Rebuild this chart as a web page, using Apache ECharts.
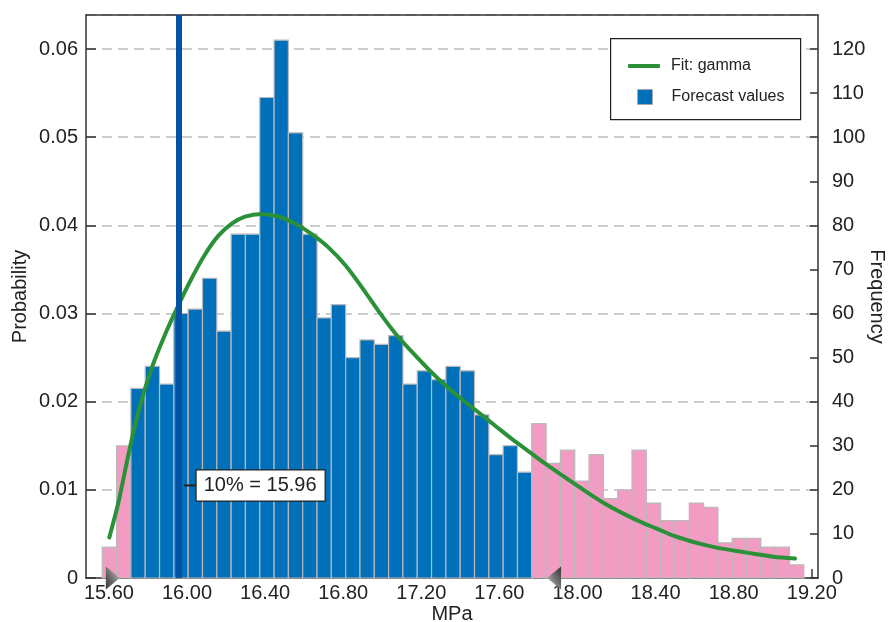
<!DOCTYPE html>
<html>
<head>
<meta charset="utf-8">
<script src="https://cdn.jsdelivr.net/npm/echarts@6/dist/echarts.min.js"></script>
<style>
html,body{margin:0;padding:0;background:#fff;}
#chart{width:890px;height:622px;}
</style>
</head>
<body>
<div id="chart"></div>
<script>
// ---- data ----
var binStart = 15.566;          // left edge of first bin (MPa)
var binWidth = 0.07333;         // bin width (MPa)
var frequencies = [7, 30, 43, 48, 44, 60, 61, 68, 56, 78, 78, 109, 122, 101, 78, 59, 62, 50, 54, 53,
                   55, 44, 47, 45, 48, 47, 37, 28, 30, 24, 35, 26, 29, 22, 28, 18, 20, 29, 17, 13,
                   13, 17, 16, 8, 9, 9, 7, 7, 3];
var firstInRangeBin = 2;        // bins inside certainty range (blue)
var lastInRangeBin = 29;
var fitX = [15.602, 15.648, 15.699, 15.751, 15.819, 15.887, 15.955, 16.024, 16.092, 16.160, 16.229,
            16.297, 16.383, 16.468, 16.553, 16.639, 16.724, 16.810, 16.895, 16.980, 17.065, 17.150,
            17.236, 17.321, 17.406, 17.492, 17.577, 17.662, 17.748, 17.833, 17.918, 18.004, 18.064,
            18.150, 18.235, 18.320, 18.406, 18.491, 18.576, 18.662, 18.747, 18.832, 18.918, 19.003, 19.114];
var fitProb = [0.0046, 0.0085, 0.0139, 0.0189, 0.0238, 0.0276, 0.0309, 0.0340, 0.0367, 0.0388, 0.0402,
               0.0410, 0.0413, 0.0410, 0.0402, 0.0390, 0.0375, 0.0355, 0.0330, 0.0303, 0.0278, 0.0257,
               0.0237, 0.0219, 0.0203, 0.0188, 0.0173, 0.0158, 0.0144, 0.0130, 0.0117, 0.0104, 0.0095,
               0.0083, 0.0073, 0.0064, 0.0056, 0.0048, 0.0042, 0.0037, 0.0033, 0.0030, 0.0027, 0.0024, 0.0022];
var percentileValue = 15.96;
var percentileText = '10% = 15.96';
var percentileLabelProb = 0.0105;
var grabberValues = [15.62, 17.88];
var xTickValues = [15.60, 16.00, 16.40, 16.80, 17.20, 17.60, 18.00, 18.40, 18.80, 19.20];
var trialsPerProb = 2000;       // frequency = probability * trials

// ---- chart ----
var FONT = 'Liberation Sans, Arial, Helvetica, sans-serif';
var chart = echarts.init(document.getElementById('chart'), null, {renderer: 'canvas'});

var barData = frequencies.map(function (f, i) {
  return [binStart + i * binWidth, binStart + (i + 1) * binWidth, f, (i >= firstInRangeBin && i <= lastInRangeBin) ? 1 : 0];
});
var fitData = fitX.map(function (x, i) { return [x, fitProb[i]]; });

var probMax = 0.06386;
var xMin = 15.4827, xMax = 19.2318;
var AXIS = {color: '#333', width: 1.5};

var option = {
  backgroundColor: '#fff',
  animation: false,
  textStyle: {fontFamily: FONT},
  grid: {left: 86, right: 72, top: 15, bottom: 44, show: false, outerBoundsMode: 'none', containLabel: false},
  graphic: [{
    type: 'rect', left: 610, top: 38, z: 3,
    shape: {width: 190, height: 81},
    style: {fill: '#fff', stroke: '#222', lineWidth: 1.2}
  }],
  legend: [{
    data: [{name: 'Fit: gamma', icon: 'roundRect'}],
    left: 628, top: 57, padding: 0, z: 5,
    itemWidth: 32, itemHeight: 4,
    textStyle: {fontSize: 16, color: '#222', fontFamily: FONT, lineHeight: 18, padding: [0, 0, 0, 6]},
    selectedMode: false
  }, {
    data: [{name: 'Forecast values', icon: 'rect', itemStyle: {color: '#0070BA', borderColor: '#aaa', borderWidth: 1}}],
    left: 637, top: 88, padding: 0, z: 5,
    itemWidth: 15, itemHeight: 15,
    textStyle: {fontSize: 16, color: '#222', fontFamily: FONT, lineHeight: 18, padding: [0, 0, 0, 14]},
    selectedMode: false
  }],
  xAxis: [{
    type: 'value', min: xMin, max: xMax, position: 'bottom',
    axisLine: {show: true, onZero: false, lineStyle: AXIS},
    axisTick: {show: true, inside: true, length: 9, customValues: xTickValues, lineStyle: AXIS},
    axisLabel: {customValues: xTickValues, formatter: function (v) { return v.toFixed(2); }, fontSize: 20, color: '#222', margin: 5, fontFamily: FONT},
    splitLine: {show: false},
    name: 'MPa', nameLocation: 'middle', nameGap: 26, nameMoveOverlap: false,
    nameTextStyle: {fontSize: 20, color: '#222', fontFamily: FONT}
  }, {
    type: 'value', min: xMin, max: xMax, position: 'top', z: 3,
    axisLine: {show: true, onZero: false, lineStyle: AXIS},
    axisTick: {show: false}, axisLabel: {show: false}, splitLine: {show: false}
  }],
  yAxis: [{
    type: 'value', position: 'left', min: 0, max: probMax, interval: 0.01,
    axisLine: {show: true, onZero: false, lineStyle: AXIS},
    axisTick: {show: true, inside: true, length: 10, lineStyle: AXIS},
    axisLabel: {formatter: function (v) { return v === 0 ? '0' : v.toFixed(2); }, showMaxLabel: false, fontSize: 20, color: '#222', margin: 8, fontFamily: FONT},
    splitLine: {show: true, lineStyle: {type: [10, 6], color: '#bdbdbd', width: 1.5}},
    name: 'Probability', nameLocation: 'middle', nameGap: 56, nameMoveOverlap: false,
    nameTextStyle: {fontSize: 20, color: '#222', fontFamily: FONT}
  }, {
    type: 'value', position: 'right', min: 0, max: probMax * trialsPerProb, interval: 10,
    axisLine: {show: true, onZero: false, lineStyle: AXIS},
    axisTick: {show: true, inside: true, length: 8, lineStyle: AXIS},
    axisLabel: {showMaxLabel: false, fontSize: 20, color: '#222', margin: 14, fontFamily: FONT},
    splitLine: {show: false},
    name: 'Frequency', nameLocation: 'middle', nameRotate: -90, nameGap: 49, nameMoveOverlap: false,
    nameTextStyle: {fontSize: 20, color: '#222', fontFamily: FONT}
  }],
  series: [{
    name: 'Forecast values', type: 'custom', yAxisIndex: 1, z: 2,
    itemStyle: {color: '#0070BA'},
    encode: {x: [0, 1], y: 2},
    data: barData,
    renderItem: function (params, api) {
      var p0 = api.coord([api.value(0), api.value(2)]);
      var p1 = api.coord([api.value(1), 0]);
      return {
        type: 'rect',
        shape: {x: p0[0], y: p0[1], width: p1[0] - p0[0], height: p1[1] - p0[1]},
        style: {fill: api.value(3) ? '#0070BA' : '#F29CC4', stroke: '#B9B9B9', lineWidth: 1.2}
      };
    },
    markLine: {
      silent: true, symbol: ['none', 'none'], animation: false,
      data: [{xAxis: percentileValue}],
      lineStyle: {color: '#0052A3', width: 6, type: 'solid'},
      label: {show: false}
    }
  }, {
    name: 'Fit: gamma', type: 'line', yAxisIndex: 0, z: 4,
    data: fitData, smooth: 0.3, showSymbol: false,
    lineStyle: {color: '#2A9139', width: 4, cap: 'round'},
    itemStyle: {color: '#2A9139'}
  }, {
    name: 'percentile', type: 'scatter', yAxisIndex: 0, z: 6, clip: false,
    data: [[percentileValue, percentileLabelProb]],
    symbol: 'rect', symbolSize: [13, 2], symbolOffset: [11, 0],
    itemStyle: {color: '#222', opacity: 1},
    label: {
      show: true, position: 'right', distance: 0, formatter: percentileText,
      fontSize: 20, color: '#222', fontFamily: FONT, lineHeight: 22,
      backgroundColor: '#fff', borderColor: '#222', borderWidth: 1.2, padding: [4, 8, 4, 7]
    }
  }, {
    name: 'grabbers', type: 'scatter', yAxisIndex: 0, z: 7, clip: false,
    data: [{value: [grabberValues[0], 0], symbolRotate: -90}, {value: [grabberValues[1], 0], symbolRotate: 90}],
    symbol: 'triangle', symbolSize: [23, 14],
    itemStyle: {
      opacity: 1,
      color: new echarts.graphic.LinearGradient(0, 0, 1, 1, [{offset: 0, color: '#d8d8d8'}, {offset: 0.5, color: '#777'}, {offset: 1, color: '#333'}])
    }
  }]
};
chart.setOption(option);
</script>
</body>
</html>
